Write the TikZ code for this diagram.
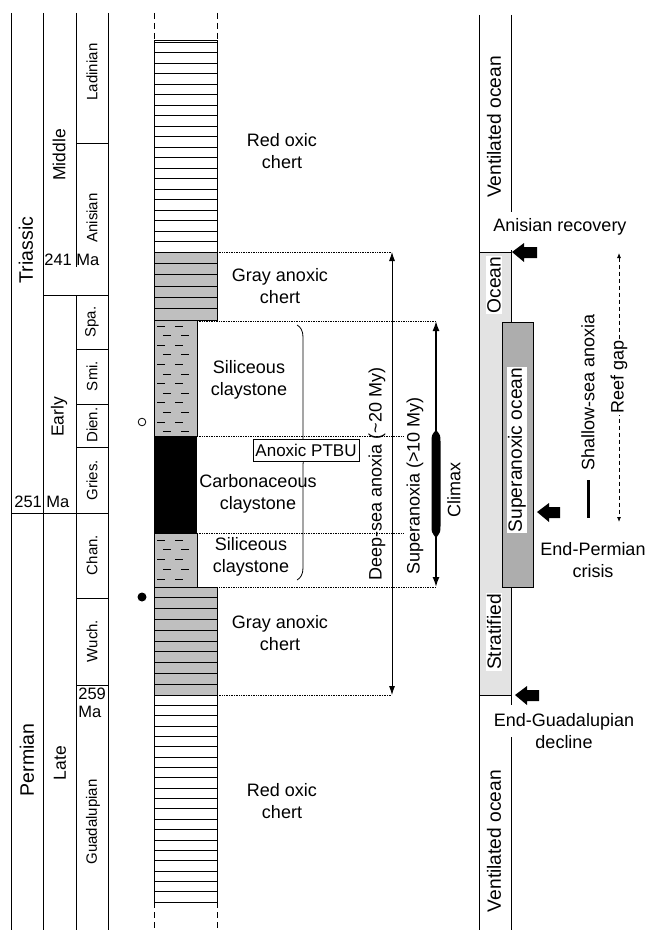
\documentclass[tikz,border=0pt]{standalone}
\usepackage{fontspec}
\setmainfont{Liberation Sans}
\usetikzlibrary{decorations.pathreplacing,arrows.meta}
\begin{document}
\begin{tikzpicture}[x=1pt,y=-1pt,line width=0.8pt,
  lbl/.style={inner sep=0pt,align=center,font=\fontsize{18}{21.5}\selectfont},
  vlbl/.style={lbl,rotate=90},
  vbig/.style={vlbl,font=\fontsize{19.2}{22}\selectfont},
  period/.style={rotate=90,inner sep=0pt,font=\fontsize{19.5}{22}\selectfont},
  epoch/.style={rotate=90,inner sep=0pt,font=\fontsize{17.5}{20}\selectfont},
  stage/.style={rotate=90,inner sep=0pt,font=\fontsize{15}{17}\selectfont},
  agelbl/.style={inner sep=0pt,align=left,font=\fontsize{16.5}{18}\selectfont},
  dotl/.style={densely dotted,line width=0.7pt},
  grayfill/.style={fill=black!25},
  stratfill/.style={fill=black!11},
  superfill/.style={fill=black!32},
  dashcol/.style={dash pattern=on 6pt off 4pt},
  sdash/.style={line width=0.9pt},
  bigarrow/.style={fill=black}
]
\useasboundingbox (0,0) rectangle (648,931);

% ---------- time scale columns ----------
\draw (11,13) -- (11,930);
\draw (43,13) -- (43,930);
\draw (108,13) -- (108,930);
\draw (76,13) -- (76,267);
\draw (76,295) -- (76,930);
\draw (76,143) -- (108,143);
\draw (43,295) -- (108,295);
\draw (76,349) -- (108,349);
\draw (76,404) -- (108,404);
\draw (76,447) -- (108,447);
\draw (11,513) -- (108,513);
\draw (76,598) -- (108,598);
\draw (76,685) -- (108,685);

\node[period] (tri) at (26,250) {Triassic};
\node[period] (per) at (27,760) {Permian};
\node[epoch] (mid) at (59,155) {Middle};
\node[epoch] (ear) at (59,417) {Early};
\node[epoch] (lat) at (60,763) {Late};
\node[stage] (lad) at (92,72) {Ladinian};
\node[stage] (ani) at (92,218) {Anisian};
\node[stage] (spa) at (92,322) {Spa.};
\node[stage] (smi) at (92,376) {Smi.};
\node[stage] (die) at (92,425) {Dien.};
\node[stage] (gri) at (92,480) {Gries.};
\node[stage] (cha) at (92,555) {Chan.};
\node[stage] (wuc) at (92,641) {Wuch.};
\node[stage] (gua) at (93,822) {Guadalupian};
\node[agelbl,anchor=west] (a241) at (44,260) {241 Ma};
\node[agelbl,anchor=west] (a251) at (14,502) {251 Ma};
\node[agelbl,anchor=north west] (a259) at (78,688) {259\\Ma};

% ---------- lithologic column ----------
\draw[dashcol] (154,13) -- (154,40);
\draw[dashcol] (217,13) -- (217,40);
\draw[dashcol] (154,902) -- (154,931);
\draw[dashcol] (217,902) -- (217,931);

% upper red chert
\draw (154,40) rectangle (217,252);
\foreach \k in {0,...,19} \draw (154,{42+10.5*\k}) -- (217,{42+10.5*\k});
% upper gray chert
\draw[grayfill] (154,252) rectangle (217,320);
\foreach \k in {1,...,5} \draw (154,{252+11.33*\k}) -- (217,{252+11.33*\k});
% siliceous claystone (upper)
\draw[grayfill] (154,320) rectangle (197,436);
\foreach \i in {0,...,11} {
  \pgfmathsetmacro\yy{326+9.6*\i}
  \pgfmathsetmacro\off{mod(\i,2)*6}
  \draw[sdash] ({157+\off},\yy) -- ++(8,0);
  \draw[sdash] ({175+\off},\yy) -- ++(8,0);
}
% carbonaceous claystone
\fill[black] (154,436) rectangle (197,533);
% siliceous claystone (lower)
\draw[grayfill] (154,533) rectangle (197,587);
\foreach \i in {0,...,4} {
  \pgfmathsetmacro\yy{540+9.8*\i}
  \pgfmathsetmacro\off{mod(\i,2)*6}
  \draw[sdash] ({157+\off},\yy) -- ++(8,0);
  \draw[sdash] ({175+\off},\yy) -- ++(8,0);
}
% lower gray chert
\draw[grayfill] (154,587) rectangle (217,695);
\foreach \k in {1,...,9} \draw (154,{587+10.8*\k}) -- (217,{587+10.8*\k});
% lower red chert
\draw (154,695) rectangle (217,902);
\foreach \k in {1,...,19} \draw (154,{695+10.35*\k}) -- (217,{695+10.35*\k});

% markers
\draw (142,422) circle (3.8);
\fill (142,597) circle (4.5);

% dotted correlation lines
\coordinate (d1) at (392,252);
\coordinate (d2) at (436,321);
\coordinate (d3) at (403,436);
\coordinate (d4) at (403,533);
\coordinate (d5) at (436,587);
\coordinate (d6) at (392,695);
\draw[dotl] (217,252) -- (d1);
\draw[dotl] (197,321) -- (d2);
\draw[dotl] (197,436) -- (d3);
\draw[dotl] (197,533) -- (d4);
\draw[dotl] (197,587) -- (d5);
\draw[dotl] (217,695) -- (d6);

% deep-sea anoxia arrow
\draw[{Latex[length=9pt,width=6pt]}-{Latex[length=9pt,width=6pt]}] (d1) -- (d6);
\node[vlbl] (deep) at (377,474) {Deep-sea anoxia (\textasciitilde20 My)};
% superanoxia arrow
\draw[line width=1.6pt,{Latex[length=10pt,width=7pt]}-{Latex[length=10pt,width=7pt]}] (d2) -- (d5);
\fill (436,430) .. controls (440.5,435) .. (440.5,443) -- (440.5,526) .. controls (440.5,532) .. (436,538)
  .. controls (431.5,532) .. (431.5,526) -- (431.5,443) .. controls (431.5,435) .. (436,430) -- cycle;
\node[vlbl] (supx) at (415,486) {Superanoxia (>10 My)};
\node[vlbl] (clim) at (454,490) {Climax};

% brace and PTBU
\draw[decorate,decoration={brace,amplitude=12pt}] (297,325) -- (297,580);
\node[draw,fill=white,inner xsep=2.5pt,inner ysep=0pt,minimum height=22pt,font=\fontsize{17}{20}\selectfont] (ptbu) at (306,450) {Anoxic PTBU};

% lithology labels
\node[lbl] (rc1) at (282,151) {Red oxic\\chert};
\node[lbl] (gc1) at (280,286) {Gray anoxic\\chert};
\node[lbl] (sc1) at (249,380) {Siliceous\\claystone};
\node[lbl] (cc) at (258,494) {Carbonaceous\\claystone};
\node[lbl] (sc2) at (251,557) {Siliceous\\claystone};
\node[lbl] (gc2) at (280,633) {Gray anoxic\\chert};
\node[lbl] (rc2) at (282,801) {Red oxic\\chert};

% ---------- ocean column ----------
\fill[stratfill] (479,252) rectangle (511,695);
\draw (479,15) -- (479,930);
\draw (511,15) -- (511,212);
\draw (511,250) -- (511,705);
\draw (511,737) -- (511,930);
\draw (479,252) -- (511,252);
\draw (479,695) -- (511,695);
\draw[superfill] (502,322) rectangle (533,587);
\node[vbig,fill=white,inner sep=1pt] (sox) at (517,450) {Superanoxic ocean};
\node[vbig] (vo1) at (494,127) {Ventilated ocean};
\node[vbig] (vo2) at (494,841) {Ventilated ocean};
\node[vbig,fill=white,inner sep=1pt] (oce) at (494,285) {Ocean};
\node[vbig,fill=white,inner sep=1pt] (str) at (494,632) {Stratified};

% block arrows
\fill[bigarrow] (512,252) -- (524,243) -- (524,247) -- (537,247) -- (537,258) -- (524,258) -- (524,262) -- cycle;
\fill[bigarrow] (537,512) -- (549,503) -- (549,507) -- (560,507) -- (560,518) -- (549,518) -- (549,522) -- cycle;
\fill[bigarrow] (515,695) -- (527,686) -- (527,690) -- (539,690) -- (539,701) -- (527,701) -- (527,705) -- cycle;
\node[lbl] (anr) at (560,227) {Anisian recovery};
\node[lbl] (epc) at (593,560) {End-Permian\\crisis};
\node[lbl] (egd) at (564,731) {End-Guadalupian\\decline};

% shallow-sea anoxia and reef gap
\node[vlbl] (ssa) at (588,392) {Shallow-sea anoxia};
\draw[line width=3pt] (588,480) -- (588,518);
\coordinate (rg1) at (619,253);
\coordinate (rg2) at (619,522);
\draw[dash pattern=on 4pt off 3pt,{Latex[length=5pt,width=4pt]}-{Latex[length=5pt,width=4pt]}] (rg1) -- (rg2);
\node[vlbl,fill=white,inner sep=1.5pt] (reef) at (619,377) {Reef gap};
\end{tikzpicture}
\end{document}
